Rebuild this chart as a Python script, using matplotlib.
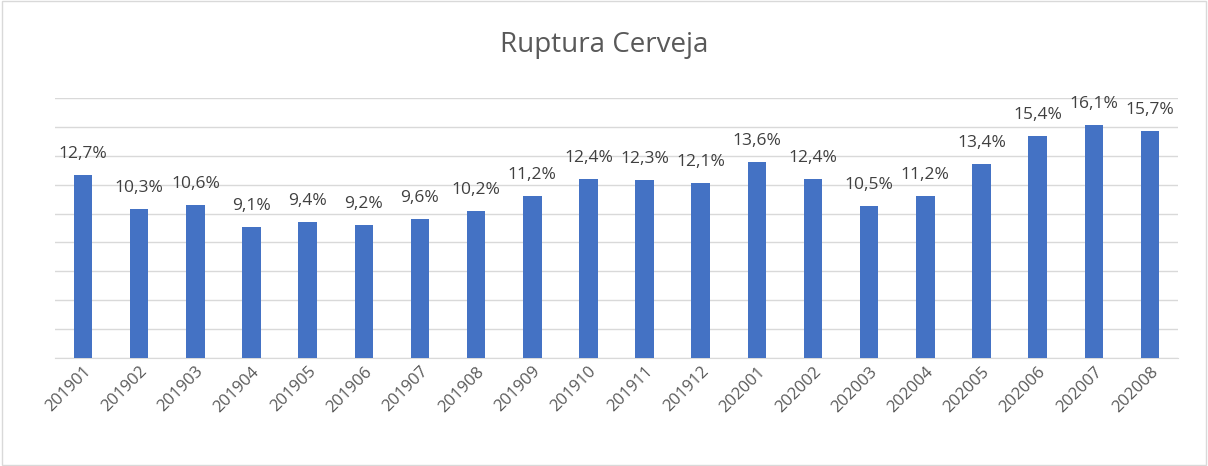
import matplotlib.pyplot as plt
from matplotlib.patches import Rectangle

periods = ['201901', '201902', '201903', '201904', '201905', '201906', '201907',
           '201908', '201909', '201910', '201911', '201912', '202001', '202002',
           '202003', '202004', '202005', '202006', '202007', '202008']
ruptura = [12.7, 10.3, 10.6, 9.1, 9.4, 9.2, 9.6, 10.2, 11.2, 12.4, 12.3, 12.1,
           13.6, 12.4, 10.5, 11.2, 13.4, 15.4, 16.1, 15.7]

plt.rcParams['font.family'] = ['Open Sans', 'DejaVu Sans']

fig = plt.figure(figsize=(12.08, 4.66), dpi=100)
ax = fig.add_axes([55 / 1208, 1 - 358 / 466, 1123 / 1208, 260 / 466])

x = range(len(periods))
ax.bar(x, ruptura, width=0.33, color='#4472C4', zorder=3)
for i, v in zip(x, ruptura):
    ax.text(i, v + 0.9, f'{v:.1f}%'.replace('.', ','), ha='center', va='bottom',
            fontsize=12.5, color='#404040')

ax.set_ylim(0, 18)
ax.set_yticks(range(0, 19, 2))
ax.set_xlim(-0.5, len(periods) - 0.5)
ax.yaxis.grid(True, color='#d9d9d9', linewidth=1, zorder=0)
ax.tick_params(axis='y', left=False, labelleft=False)
ax.tick_params(axis='x', length=0, labelsize=12, labelcolor='#595959', pad=4)
ax.set_xticks(list(x))
ax.set_xticklabels(periods, rotation=45, ha='right', rotation_mode='anchor')
for s in ['top', 'right', 'left']:
    ax.spines[s].set_visible(False)
ax.spines['bottom'].set_color('#d9d9d9')

fig.text(0.5, 1 - 45 / 466, 'Ruptura Cerveja', ha='center', va='center',
         fontsize=20, color='#595959')
fig.patches.append(Rectangle((0.002, 0.003), 0.996, 0.994, transform=fig.transFigure,
                             fill=False, edgecolor='#d9d9d9', linewidth=1))

fig.savefig('out.png', dpi=100)
